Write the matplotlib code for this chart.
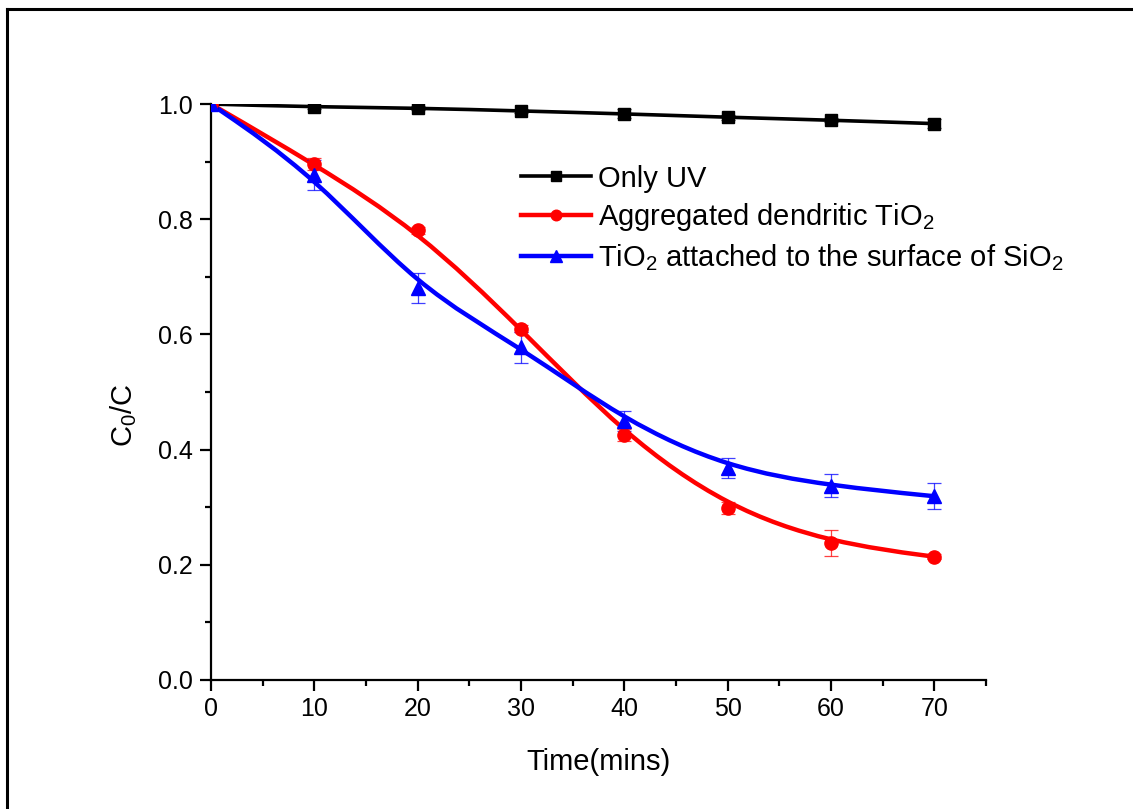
import matplotlib
matplotlib.use("Agg")
import matplotlib.pyplot as plt
import numpy as np
from matplotlib.lines import Line2D
from matplotlib.path import Path
from matplotlib.patches import PathPatch

plt.rcParams["font.family"] = ["Liberation Sans", "DejaVu Sans"]
plt.rcParams["mathtext.fontset"] = "custom"
plt.rcParams["mathtext.rm"] = "Liberation Sans"
plt.rcParams["mathtext.it"] = "Liberation Sans:italic"

# --- data ---
time = [0, 10, 20, 30, 40, 50, 60, 70]
only_uv = [1.0, 0.995, 0.993, 0.988, 0.983, 0.977, 0.972, 0.966]
only_uv_err = [0, 0.003, 0.003, 0.004, 0.008, 0.004, 0.004, 0.008]
dendritic = [1.0, 0.896, 0.781, 0.610, 0.425, 0.299, 0.238, 0.214]
dendritic_err = [0, 0.010, 0.006, 0.006, 0.010, 0.010, 0.023, 0.004]
attached = [1.0, 0.877, 0.680, 0.578, 0.450, 0.368, 0.337, 0.319]
attached_err = [0, 0.026, 0.026, 0.027, 0.017, 0.018, 0.020, 0.023]

labels = ["Only UV", "Aggregated dendritic TiO$_2$",
          "TiO$_2$ attached to the surface of SiO$_2$"]
colors = ["black", "#ff0000", "#0000ff"]
markers = ["s", "o", "^"]


def bspline_path(x, y):
    """Uniform cubic B-spline through the data as control points (Origin style),
    expressed as Bezier segments, clamped at both ends."""
    p = np.column_stack([x, y]).astype(float)
    q = np.vstack([p[:1], p[:1], p, p[-1:], p[-1:]])
    verts = [tuple(p[0])]
    codes = [Path.MOVETO]
    for i in range(1, len(q) - 2):
        a, b, c, d = q[i - 1], q[i], q[i + 1], q[i + 2]
        b1 = (2 * b + c) / 3
        b2 = (b + 2 * c) / 3
        b3 = (b + 4 * c + d) / 6
        verts += [tuple(b1), tuple(b2), tuple(b3)]
        codes += [Path.CURVE4] * 3
    return Path(verts, codes)


fig = plt.figure(figsize=(11.33, 8.09), dpi=100)
ax = fig.add_axes([0.1862, 0.1595, 0.6841, 0.7119])

series = [(only_uv, only_uv_err, 2.6), (dendritic, dendritic_err, 3.2),
          (attached, attached_err, 3.2)]
msizes = [8.5, 9.5, 10.5]
for (vals, err, lw), c, m, ms in zip(series, colors, markers, msizes):
    ax.add_patch(PathPatch(bspline_path(time, vals), facecolor="none",
                           edgecolor=c, lw=lw, zorder=2))
    ax.errorbar(time, vals, yerr=err, fmt="none", ecolor=c, elinewidth=0.9,
                capsize=5, capthick=0.9, alpha=0.75, zorder=3)
    ax.plot(time, vals, ls="none", marker=m, color=c, ms=ms, zorder=4)

ax.set_xlim(0, 75)
ax.set_ylim(0, 1.0)
ax.set_xticks([0, 10, 20, 30, 40, 50, 60, 70])
ax.set_xticks(np.arange(5, 76, 10), minor=True)
ax.set_yticks([0.0, 0.2, 0.4, 0.6, 0.8, 1.0])
ax.set_yticks([0.1, 0.3, 0.5, 0.7, 0.9], minor=True)
ax.set_yticklabels(["0.0", "0.2", "0.4", "0.6", "0.8", "1.0"])

for side in ["top", "right"]:
    ax.spines[side].set_visible(False)
for side in ["left", "bottom"]:
    ax.spines[side].set_linewidth(1.6)
ax.tick_params(which="major", direction="out", length=8, width=1.6,
               labelsize=18, pad=4)
ax.tick_params(which="minor", direction="out", length=4.5, width=1.6)
ax.tick_params(axis="y", pad=5)

ax.set_xlabel("Time(mins)", fontsize=21)
ax.xaxis.set_label_coords(0.5, -0.118)
ax.set_ylabel("C$_0$/C", fontsize=21)
ax.yaxis.set_label_coords(-0.093, 0.46)

handles = [Line2D([], [], color=c, marker=m, lw=lw, ms=ms * 0.8)
           for c, m, (_, _, lw), ms in zip(colors, markers, series, msizes)]
ax.legend(handles, labels, loc="upper left", bbox_to_anchor=(0.385, 0.915),
          frameon=False, fontsize=21, handlelength=2.4, handletextpad=0.25,
          labelspacing=0.3, borderaxespad=0)

# partial outer frame (left and top edges only, as in the source image)
fx, fy = 7 / 1133, 1 - 9 / 809
fig.add_artist(Line2D([fx, fx], [0, fy], transform=fig.transFigure,
                      color="black", lw=2.2))
fig.add_artist(Line2D([fx, 1], [fy, fy], transform=fig.transFigure,
                      color="black", lw=2.2))

fig.savefig("out.png", dpi=100)
